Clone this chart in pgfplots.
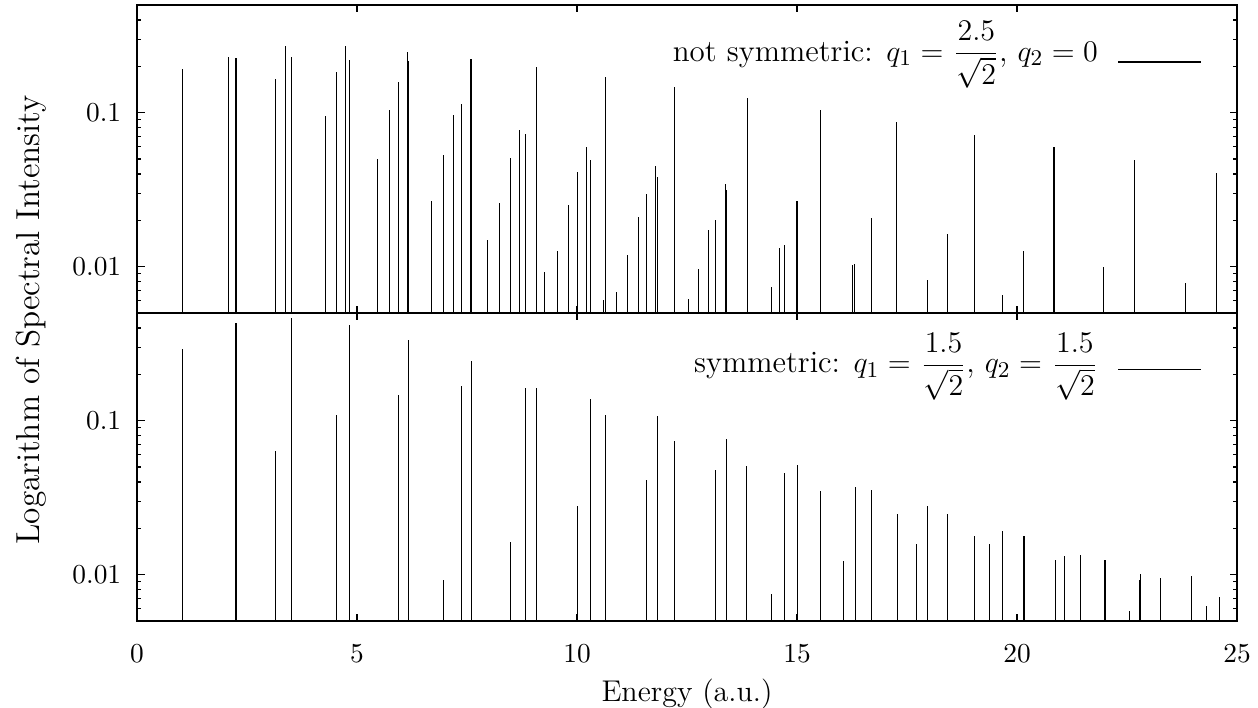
\documentclass[border=0pt]{standalone}
\usepackage{pgfplots}
\pgfplotsset{compat=1.18}
\pgfplotstableread{
x y
1.04 0.192
2.07 0.230
2.25 0.227
3.15 0.166
3.38 0.272
3.51 0.230
4.29 0.0957
4.53 0.183
4.73 0.270
4.82 0.221
5.47 0.050
5.73 0.104
5.94 0.159
6.14 0.249
6.18 0.218
6.70 0.0265
6.96 0.0534
7.20 0.097
7.37 0.113
7.59 0.223
7.96 0.0150
8.23 0.0259
8.48 0.0508
8.70 0.0776
8.83 0.0731
9.08 0.197
9.26 0.00918
9.55 0.01257
9.80 0.0250
10.01 0.0410
10.22 0.0598
10.30 0.0493
10.60 0.0061
10.64 0.171
10.89 0.0068
11.15 0.0119
11.39 0.0211
11.58 0.0298
11.79 0.0453
11.82 0.0382
12.22 0.147
12.54 0.0062
12.77 0.00966
12.99 0.0172
13.14 0.0200
13.38 0.0346
13.40 0.0316
13.87 0.124
14.42 0.00734
14.61 0.0132
14.72 0.01375
15.00 0.0265
15.02 0.0250
15.53 0.104
16.27 0.0103
16.30 0.0104
16.70 0.0207
17.27 0.0870
17.96 0.00824
18.42 0.0162
19.03 0.0720
19.68 0.00658
20.15 0.0127
20.84 0.0596
21.43 0.0051
21.97 0.00995
22.67 0.0490
23.82 0.00787
24.54 0.0404
}\nonsym
\pgfplotstableread{
x y
1.04 0.294
2.25 0.433
3.15 0.0639
3.51 0.465
4.53 0.108
4.82 0.42
5.94 0.146
6.18 0.336
6.96 0.0092
7.37 0.169
7.60 0.243
8.48 0.0164
8.83 0.163
9.08 0.163
10.01 0.0279
10.30 0.139
10.64 0.108
11.58 0.041
11.82 0.107
12.22 0.0734
13.14 0.0478
13.39 0.0760
13.86 0.0505
14.42 0.0075
14.72 0.0455
15.01 0.0518
15.53 0.0351
16.06 0.0122
16.33 0.0373
16.70 0.0356
17.28 0.0248
17.72 0.0157
17.97 0.0277
18.42 0.0248
19.04 0.0177
19.38 0.0157
19.68 0.0192
20.16 0.0177
20.87 0.0125
21.08 0.0133
21.44 0.0135
22.00 0.0125
22.55 0.00583
22.78 0.0092
22.80 0.0101
23.26 0.0095
23.97 0.00987
24.30 0.00622
24.61 0.00716
}\sym
\newcommand{\fr}[2]{{\fontsize{11.5}{13}\selectfont$\displaystyle\frac{#1}{#2}$}}
\pgfplotsset{
  panel/.style={
    anchor=south west,
    width=440pt, height=123.2pt, scale only axis,
    xmin=0, xmax=25, ymin=0.005, ymax=0.5,
    log origin=infty,
    xtick={0,5,10,15,20,25},
    ytick={0.01,0.1}, yticklabels={$0.01$,$0.1$},
    minor ytick={0.005,0.006,0.007,0.008,0.009,0.02,0.03,0.04,0.05,0.06,0.07,0.08,0.09,0.2,0.3,0.4,0.5},
    tick align=inside, major tick length=3pt, minor tick length=1.5pt,
    axis line style={line width=0.8pt},
    every tick/.style={black, line width=0.5pt},
    ticklabel style={font=\fontsize{10.5}{12}\selectfont},
    yticklabel style={xshift=-2.8pt},
    xticklabel style={yshift=-6.0pt},
    legend plot pos=right,
    legend cell align=right,
    legend style={draw=none, fill=none, inner sep=0pt, outer sep=0pt,
      column sep=8pt,
      nodes={inner sep=0pt, anchor=base, font=\fontsize{12.4}{14}\selectfont},
      at={(rel axis cs:1,1)}, anchor=east, xshift=-14.0pt},
  },
}
\begin{document}
\begin{tikzpicture}
\begin{axis}[ymode=log, panel, at={(0pt,123.2pt)}, xticklabels={},
  legend image code/.code={\draw[black, line width=0.5pt] (0pt,-0.3pt) -- (33.2pt,-0.3pt);},
  legend style={yshift=-15.3pt}]
\addplot[ycomb, black, line width=0.45pt, mark=none] table[x=x, y=y] {\nonsym};
\addlegendentry{not symmetric: $q_1 =$ \fr{2.5}{\sqrt{2}}, $q_2 = 0$}
\end{axis}
\begin{axis}[ymode=log, panel, at={(0pt,0pt)},
  legend image code/.code={\draw[black, line width=0.5pt] (0pt,1.4pt) -- (33.2pt,1.4pt);},
  legend style={yshift=-16.7pt},
  xlabel={Energy (a.u.)},
  xlabel style={font=\large, at={(axis description cs:0.5,0)}, anchor=base, yshift=-32.3pt}]
\addplot[ycomb, black, line width=0.45pt, mark=none] table[x=x, y=y] {\sym};
\addlegendentry{symmetric: $q_1 =$ \fr{1.5}{\sqrt{2}}, $q_2 =$ \fr{1.5}{\sqrt{2}}}
\end{axis}
\node[rotate=90, anchor=base, font=\fontsize{13.3}{15}\selectfont] at (-38.8pt,120.4pt) {Logarithm of Spectral Intensity};
\pgfresetboundingbox
\path[use as bounding box] (-54.8pt,-34.8pt) rectangle (448.4pt,248.4pt);
\end{tikzpicture}
\end{document}
